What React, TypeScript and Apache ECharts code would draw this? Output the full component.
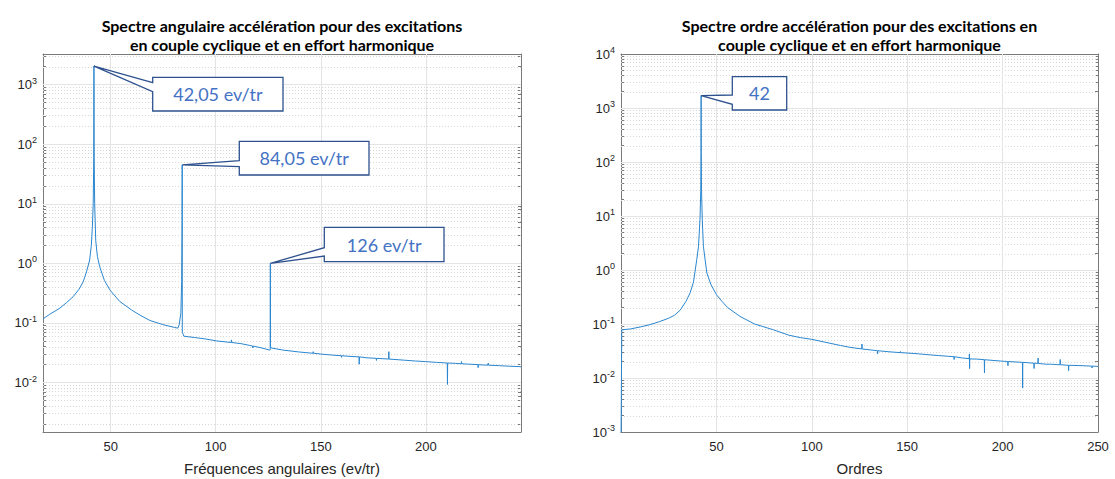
import React, { useEffect, useRef } from 'react';
import * as echarts from 'echarts';

// ---------- DATA ----------
const leftFreq = [17.8, 21, 25.8, 29, 32.1, 35, 36.9, 38.5, 40.0, 40.8, 41.3, 41.7, 41.95, 42.05, 42.15, 42.4, 42.9, 43.7, 44.8, 47, 49.6, 54.3, 60, 64, 68.7, 74.8, 80.5, 82, 82.6, 83.4, 83.8, 84.0, 84.05, 84.1, 84.5, 84.8, 90, 95, 100.4, 107.4, 107.5, 107.6, 112, 116.2, 117.6, 117.7, 117.8, 122, 125.8, 125.95, 126.0, 126.05, 126.5, 132.2, 140, 146.3, 146.4, 146.5, 150.5, 155, 159.8, 159.9, 160.0, 163.9, 168.2, 168.3, 168.4, 172, 176.4, 176.5, 176.6, 182.3, 182.4, 182.5, 190, 195, 200.4, 205, 210.2, 210.3, 210.4, 214, 216.9, 217, 217.1, 220, 224.8, 224.9, 225.0, 227.3, 229.6, 229.7, 229.8, 235, 240, 244.8, 245.3];
const leftAmp = [0.117, 0.14, 0.177, 0.22, 0.275, 0.37, 0.49, 0.72, 1.14, 2.0, 4.1, 10, 60, 2050, 60, 10, 2.4, 1.3, 0.88, 0.52, 0.36, 0.23, 0.165, 0.135, 0.11, 0.094, 0.084, 0.082, 0.093, 0.145, 0.5, 5, 45, 0.07, 0.065, 0.060, 0.057, 0.054, 0.050, 0.047, 0.052, 0.047, 0.045, 0.042, 0.041, 0.038, 0.041, 0.038, 0.035, 0.036, 1.0, 0.04, 0.038, 0.035, 0.0325, 0.031, 0.033, 0.031, 0.030, 0.029, 0.0282, 0.0265, 0.0282, 0.0275, 0.027, 0.0203, 0.027, 0.026, 0.0255, 0.0235, 0.0255, 0.0248, 0.033, 0.0248, 0.0237, 0.023, 0.0224, 0.0218, 0.0213, 0.0093, 0.0213, 0.021, 0.0207, 0.0225, 0.0207, 0.0204, 0.0200, 0.0178, 0.0200, 0.0197, 0.0196, 0.0212, 0.0196, 0.0192, 0.0188, 0.0185, 0.0183];

const rightOrder = [0, 0.4, 5, 10, 15, 20, 25, 28, 31, 34, 36.2, 38, 39.7, 40.6, 41.4, 41.8, 41.95, 42, 42.05, 42.2, 42.6, 43.2, 45, 47, 50, 53, 56, 62.4, 70, 79.9, 88, 94, 100, 107, 115, 120, 126.2, 126.3, 126.4, 134.4, 134.5, 134.6, 140, 146.3, 146.4, 146.5, 150, 156, 162, 166.6, 171, 174.5, 174.6, 174.7, 178.9, 182.5, 182.6, 182.7, 182.8, 186.5, 190.4, 190.5, 190.6, 199, 202.7, 202.8, 202.9, 207, 210.4, 210.5, 210.6, 214, 216.4, 216.5, 216.6, 218.5, 218.6, 218.7, 222.8, 225, 230.1, 230.2, 230.3, 234.5, 234.6, 234.7, 240, 246.8, 246.9, 247, 250];
const rightAmp = [0.0005, 0.078, 0.081, 0.088, 0.097, 0.11, 0.128, 0.145, 0.18, 0.26, 0.375, 0.6, 1.55, 2.7, 8.5, 30, 150, 1700, 150, 30, 8.5, 2.7, 0.88, 0.55, 0.35, 0.26, 0.2, 0.138, 0.1, 0.078, 0.062, 0.056, 0.052, 0.046, 0.040, 0.037, 0.0345, 0.0426, 0.0345, 0.032, 0.028, 0.032, 0.0307, 0.0295, 0.031, 0.0295, 0.029, 0.028, 0.0268, 0.026, 0.0253, 0.0248, 0.022, 0.0248, 0.0235, 0.0228, 0.028, 0.0149, 0.0226, 0.0224, 0.0218, 0.0124, 0.0218, 0.0206, 0.0202, 0.0169, 0.0202, 0.0198, 0.0195, 0.0065, 0.0195, 0.0191, 0.0188, 0.015, 0.0188, 0.0186, 0.0234, 0.0186, 0.018, 0.018, 0.0176, 0.022, 0.0176, 0.0172, 0.0137, 0.0172, 0.017, 0.0166, 0.0153, 0.0166, 0.0164];

const leftXTicks = [50, 100, 150, 200];
const rightXTicks = [50, 100, 150, 200, 250];
const leftYDecades = [-2, -1, 0, 1, 2, 3];
const rightYDecades = [-3, -2, -1, 0, 1, 2, 3, 4];

const leftTitle = ['Spectre angulaire accélération pour des excitations', 'en couple cyclique et en effort harmonique'];
const rightTitle = ['Spectre ordre accélération pour des excitations en', 'couple cyclique et en effort harmonique'];
const leftXName = 'Fréquences angulaires (ev/tr)';
const rightXName = 'Ordres';

const leftCallouts = [
  { at: 42.05, text: '42,05 ev/tr' },
  { at: 84.05, text: '84,05 ev/tr' },
  { at: 126.0, text: '126 ev/tr' },
];
const rightCallouts = [{ at: 42, text: '42' }];

// ---------- LAYOUT / STYLE ----------
const G0 = { left: 43, top: 54, width: 478, height: 378 };
const G1 = { left: 621, top: 54, width: 477, height: 378 };
const L_EXT = { xMin: 17.8, xMax: 245.3, yMin: -2.83, yMax: 3.515 };
const R_EXT = { xMin: 0, xMax: 250, yMin: -3, yMax: 4 };
const leftBoxes = [
  { x1: 152.7, y1: 77.3, x2: 283, y2: 111, a1: 82.7, a2: 91.7 },
  { x1: 239.3, y1: 141.3, x2: 369, y2: 175, a1: 160.7, a2: 166.7 },
  { x1: 324.3, y1: 227.3, x2: 444, y2: 261.7, a1: 247.7, a2: 256 },
];
const rightBoxes = [{ x1: 732.3, y1: 76.7, x2: 786.7, y2: 110, a1: 95, a2: 104.3 }];

const AX = '#7a7a7a';
const TXT = '#262626';
const LINE = '#2a86cf';
const FONT = 'Liberation Sans, Arial, sans-serif';

function minorLogs(lo: number, hi: number) {
  const out: number[] = [];
  for (let d = Math.floor(lo); d <= Math.ceil(hi); d++) {
    for (let k = 2; k <= 9; k++) {
      const v = d + Math.log10(k);
      if (v > lo && v < hi) out.push(v);
    }
  }
  return out;
}

function yAxesFor(gridIndex: number, lo: number, hi: number, decades: number[]) {
  const minors = minorLogs(lo, hi);
  const all = [...decades, ...minors].sort((a, b) => a - b);
  const common: any = {
    type: 'value', gridIndex, min: lo, max: hi,
    splitLine: { show: false },
    axisLine: { show: true, onZero: false, lineStyle: { color: AX, width: 1 } },
    axisTick: { show: true, inside: true, length: 3, customValues: all, lineStyle: { color: AX, width: 1 } },
  };
  return [
    {
      ...common, position: 'left',
      axisLabel: {
        show: true, customValues: decades, margin: 6,
        formatter: (v: number) => `{b|10}{s|${v}}`,
        rich: {
          b: { fontSize: 13, color: TXT, fontFamily: FONT },
          s: { fontSize: 9, color: TXT, fontFamily: FONT, padding: [0, 0, 8, 0] },
        },
      },
    },
    { ...common, position: 'right', axisLabel: { show: false } },
  ];
}

function xAxesFor(gridIndex: number, lo: number, hi: number, ticks: number[], name: string) {
  const common: any = {
    type: 'value', gridIndex, min: lo, max: hi,
    splitLine: { show: false },
    axisLine: { show: true, onZero: false, lineStyle: { color: AX, width: 1 } },
    axisTick: { show: true, inside: true, length: 4, customValues: ticks, lineStyle: { color: AX, width: 1 } },
  };
  return [
    {
      ...common, position: 'bottom',
      axisLabel: { show: true, customValues: ticks, margin: 8, fontSize: 13, color: TXT, fontFamily: FONT },
      name, nameLocation: 'middle', nameGap: 29,
      nameTextStyle: { fontSize: 15, color: TXT, fontFamily: FONT },
    },
    { ...common, position: 'top', axisLabel: { show: false } },
  ];
}

function gridLinesSeries(xIdx: number, yIdx: number, ext: any, decades: number[], xTicks: number[]) {
  const minors = minorLogs(ext.yMin, ext.yMax);
  const data: any[] = [];
  minors.forEach((v) => data.push({ yAxis: v, lineStyle: { color: '#d7d7d7', type: [1, 2], width: 1 } }));
  decades.filter((v) => v > ext.yMin && v < ext.yMax).forEach((v) => data.push({ yAxis: v, lineStyle: { color: '#e4e4e4', type: 'solid', width: 1 } }));
  xTicks.filter((v) => v > ext.xMin && v < ext.xMax).forEach((v) => data.push({ xAxis: v, lineStyle: { color: '#e4e4e4', type: 'solid', width: 1 } }));
  return {
    type: 'line', xAxisIndex: xIdx, yAxisIndex: yIdx, z: 1,
    data: [[ext.xMin, ext.yMin]], showSymbol: false, symbol: 'none', silent: true,
    lineStyle: { opacity: 0 },
    markLine: { silent: true, z: 1, symbol: ['none', 'none'], label: { show: false }, animation: false, data },
  };
}

function dataSeries(xIdx: number, yIdx: number, xs: number[], ys: number[]) {
  return {
    type: 'line', xAxisIndex: xIdx, yAxisIndex: yIdx, z: 3,
    data: xs.map((x, i) => [x, Math.log10(ys[i])]),
    showSymbol: false, symbol: 'none', silent: true, clip: true,
    lineStyle: { color: LINE, width: 1 },
  };
}

export default function App() {
  const ref = useRef<HTMLDivElement>(null);
  useEffect(() => {
    if (!ref.current) return;
    const chart = echarts.init(ref.current, null, { renderer: 'svg' });
    const option: any = {
      animation: false,
      backgroundColor: '#ffffff',
      textStyle: { fontFamily: FONT },
      grid: [
        { ...G0, outerBoundsMode: 'none', containLabel: false },
        { ...G1, outerBoundsMode: 'none', containLabel: false },
      ],
      xAxis: [
        ...xAxesFor(0, L_EXT.xMin, L_EXT.xMax, leftXTicks, leftXName),
        ...xAxesFor(1, R_EXT.xMin, R_EXT.xMax, rightXTicks, rightXName),
      ],
      yAxis: [
        ...yAxesFor(0, L_EXT.yMin, L_EXT.yMax, leftYDecades),
        ...yAxesFor(1, R_EXT.yMin, R_EXT.yMax, rightYDecades),
      ],
      series: [
        gridLinesSeries(0, 0, L_EXT, leftYDecades, leftXTicks),
        gridLinesSeries(2, 2, R_EXT, rightYDecades, rightXTicks),
        dataSeries(0, 0, leftFreq, leftAmp),
        dataSeries(2, 2, rightOrder, rightAmp),
      ],
    };
    chart.setOption(option);

    const gfx: any[] = [];
    const addTitle = (lines: string[], cx: number) => {
      lines.forEach((t, i) => {
        gfx.push({
          type: 'text', x: cx, y: 25 + i * 19.5, z: 10,
          style: { text: t, fontFamily: 'Lato', fontWeight: 'bold', fontSize: 16, fill: '#000', align: 'center', verticalAlign: 'middle' },
        });
      });
    };
    addTitle(leftTitle, G0.left + G0.width / 2);
    addTitle(rightTitle, G1.left + G1.width / 2);

    const addCallout = (gridIndex: number, xs: number[], ys: number[], c: any, b: any) => {
      let idx = 0;
      xs.forEach((x, i) => { if (Math.abs(x - c.at) < Math.abs(xs[idx] - c.at)) idx = i; });
      const tip = chart.convertToPixel({ gridIndex } as any, [xs[idx], Math.log10(ys[idx])]) as number[];
      gfx.push({
        type: 'polygon', z: 20,
        shape: { points: [[b.x1, b.y1], [b.x1, b.a1], tip, [b.x1, b.a2], [b.x1, b.y2], [b.x2, b.y2], [b.x2, b.y1]] },
        style: { fill: '#ffffff', stroke: '#2F528F', lineWidth: 1.3 },
      });
      gfx.push({
        type: 'text', z: 21, x: (b.x1 + b.x2) / 2, y: (b.y1 + b.y2) / 2,
        style: { text: c.text, fontFamily: 'Lato', fontSize: 18, fill: '#4472C4', align: 'center', verticalAlign: 'middle' },
      });
    };
    leftCallouts.forEach((c, i) => addCallout(0, leftFreq, leftAmp, c, leftBoxes[i]));
    rightCallouts.forEach((c, i) => addCallout(1, rightOrder, rightAmp, c, rightBoxes[i]));

    chart.setOption({ graphic: gfx });
    return () => chart.dispose();
  }, []);
  return <div ref={ref} style={{ position: 'absolute', left: 0, top: 0, width: '1115px', height: '479px', background: '#fff' }} />;
}
